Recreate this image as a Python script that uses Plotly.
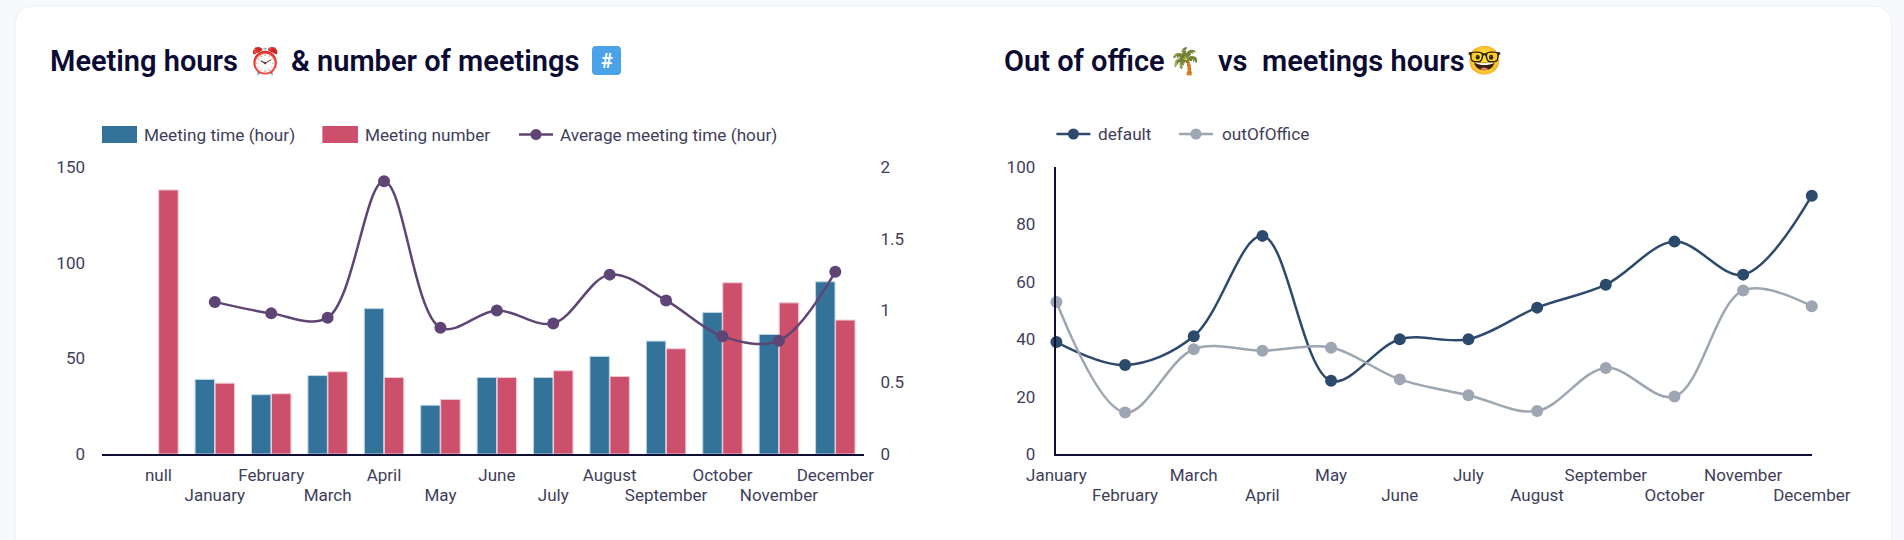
import plotly.graph_objects as go

W, H = 1904, 540

months = ['January', 'February', 'March', 'April', 'May', 'June', 'July',
          'August', 'September', 'October', 'November', 'December']
bar_categories = ['null'] + months

meeting_time = [None, 39, 31, 41, 76, 25.5, 40, 40, 51, 59, 74, 62.5, 90]
meeting_number = [138, 37, 31.5, 43, 40, 28.5, 40, 43.5, 40.5, 55, 89.5, 79, 70]
avg_time = [None, 1.06, 0.98, 0.95, 1.9, 0.88, 1.0, 0.91, 1.25, 1.07, 0.82, 0.79, 1.27]

default_hours = [39, 31, 41, 76, 25.5, 40, 40, 51, 59, 74, 62.5, 90]
out_of_office = [53, 14.5, 36.5, 36, 37, 26, 20.5, 15, 30, 20, 57, 51.5]

BLUE = '#33739A'
RED = '#CC506B'
PURPLE = '#5F4476'
NAVY = '#2C4A6B'
GREY = '#9DA6B2'
AXIS = '#0F0E33'
TEXT = '#3F3E5A'
TITLE = '#0B0A33'
FONT = 'Roboto'


def px_x(x):
    return x / W


def px_y(y):
    return 1 - y / H


def rounded_top(x0, x1, y0, y1, r, bottom_r=0):
    """Path in paper coordinates for a box given in pixels from the top left."""
    p = 'M %f %f L %f %f Q %f %f %f %f L %f %f Q %f %f %f %f L %f %f' % (
        px_x(x0), px_y(y1 - bottom_r), px_x(x0), px_y(y0 + r), px_x(x0), px_y(y0), px_x(x0 + r), px_y(y0),
        px_x(x1 - r), px_y(y0), px_x(x1), px_y(y0), px_x(x1), px_y(y0 + r), px_x(x1), px_y(y1 - bottom_r))
    if bottom_r:
        p += ' Q %f %f %f %f L %f %f Q %f %f %f %f' % (
            px_x(x1), px_y(y1), px_x(x1 - bottom_r), px_y(y1), px_x(x0 + bottom_r), px_y(y1),
            px_x(x0), px_y(y1), px_x(x0), px_y(y1 - bottom_r))
    return p + ' Z'


def legend_box(fig, x0, x1, y, color, label, text_x):
    fig.add_shape(type='rect', xref='paper', yref='paper', x0=px_x(x0), x1=px_x(x1),
                  y0=px_y(y - 8.5), y1=px_y(y + 8.5), fillcolor=color, line_width=0)
    legend_text(fig, text_x, y, label)


def legend_line(fig, x0, x1, y, color, label, text_x):
    fig.add_shape(type='line', xref='paper', yref='paper', x0=px_x(x0), x1=px_x(x1),
                  y0=px_y(y), y1=px_y(y), line=dict(color=color, width=2.5))
    mid = (x0 + x1) / 2
    fig.add_shape(type='circle', xref='paper', yref='paper', x0=px_x(mid - 5.5), x1=px_x(mid + 5.5),
                  y0=px_y(y - 5.5), y1=px_y(y + 5.5), fillcolor=color, line_width=0)
    legend_text(fig, text_x, y, label)


def legend_text(fig, x, y, label):
    fig.add_annotation(xref='paper', yref='paper', x=px_x(x), y=px_y(y), text=label,
                       showarrow=False, xanchor='left', yanchor='middle', borderpad=0, borderwidth=0,
                       font=dict(family=FONT, size=17.2, color=TEXT))


def title(fig, x, text):
    fig.add_annotation(xref='paper', yref='paper', x=px_x(x), y=px_y(61), text=text,
                       showarrow=False, xanchor='left', yanchor='middle', borderpad=0, borderwidth=0,
                       font=dict(family=FONT, size=29, color=TITLE, weight=600))


def emoji(fig, x, text, size=26):
    fig.add_annotation(xref='paper', yref='paper', x=px_x(x), y=px_y(61), text=text,
                       showarrow=False, xanchor='center', yanchor='middle', borderpad=0, borderwidth=0,
                       font=dict(family=FONT, size=size, color=TITLE))


fig = go.Figure()

# month labels are staggered: the lines sit on a second x axis that draws the lower row
fig.add_trace(go.Bar(x=list(range(13)), y=meeting_time, name='Meeting time (hour)', xaxis='x', yaxis='y',
                     marker=dict(color=BLUE, line=dict(color='#BFD6E4', width=1))))
fig.add_trace(go.Bar(x=list(range(13)), y=meeting_number, name='Meeting number', xaxis='x', yaxis='y',
                     marker=dict(color=RED, line=dict(color='#F3C9D2', width=1))))
fig.add_trace(go.Scatter(x=list(range(13)), y=avg_time, name='Average meeting time (hour)', xaxis='x2', yaxis='y2',
                         mode='lines+markers', line=dict(color=PURPLE, width=2.5, shape='spline', smoothing=1),
                         marker=dict(color=PURPLE, size=12), cliponaxis=False))
fig.add_trace(go.Scatter(x=list(range(12)), y=default_hours, name='default', xaxis='x3', yaxis='y3',
                         mode='lines+markers', line=dict(color=NAVY, width=2.5, shape='spline', smoothing=1),
                         marker=dict(color=NAVY, size=12), cliponaxis=False))
fig.add_trace(go.Scatter(x=list(range(12)), y=out_of_office, name='outOfOffice', xaxis='x4', yaxis='y3',
                         mode='lines+markers', line=dict(color=GREY, width=2.5, shape='spline', smoothing=1),
                         marker=dict(color=GREY, size=12), cliponaxis=False))

tick_font = dict(family=FONT, size=17, color=TEXT)
left_dom = [px_x(102), px_x(863.5)]
right_dom = [px_x(1056.4), px_x(1811.8)]
y_dom = [px_y(454), px_y(167)]

x_base = dict(showgrid=False, zeroline=False, tickfont=tick_font, ticks='', tickmode='array', type='linear',
              automargin=False)
y_base = dict(domain=y_dom, showgrid=False, zeroline=False, tickfont=tick_font, ticks='', tickmode='array',
              automargin=False, ticklabelstandoff=16)

fig.update_layout(
    template='none', width=W, height=H, margin=dict(l=0, r=0, t=0, b=0), showlegend=False,
    paper_bgcolor='#F8F9FB', plot_bgcolor='rgba(0,0,0,0)',
    barmode='group', bargap=0.29, bargroupgap=0.03,
    font=dict(family=FONT, color=TEXT),
    xaxis=dict(x_base, domain=left_dom, range=[-1, 12.5], anchor='y', showline=True, linecolor=AXIS, linewidth=2,
               tickvals=list(range(0, 13, 2)), ticktext=bar_categories[0::2], ticklabelstandoff=5),
    xaxis2=dict(x_base, domain=left_dom, range=[-1, 12.5], anchor='y', overlaying='x',
                tickvals=list(range(1, 13, 2)), ticktext=bar_categories[1::2], ticklabelstandoff=29),
    yaxis=dict(y_base, range=[0, 150], anchor='x', tickvals=[0, 50, 100, 150]),
    yaxis2=dict(y_base, range=[0, 2], anchor='x2', overlaying='y', side='right', tickvals=[0, 0.5, 1, 1.5, 2],
                ticktext=['0', '0.5', '1', '1.5', '2']),
    xaxis3=dict(x_base, domain=right_dom, range=[0, 11], anchor='y3', showline=True, linecolor=AXIS, linewidth=2,
                tickvals=list(range(0, 12, 2)), ticktext=months[0::2], ticklabelstandoff=5),
    xaxis4=dict(x_base, domain=right_dom, range=[0, 11], anchor='y3', overlaying='x3',
                tickvals=list(range(1, 12, 2)), ticktext=months[1::2], ticklabelstandoff=29),
    yaxis3=dict(y_base, range=[0, 100], anchor='x3', tickvals=[0, 20, 40, 60, 80, 100],
                showline=True, linecolor=AXIS, linewidth=1.5),
)

# white card behind both charts
fig.add_shape(type='path', xref='paper', yref='paper', layer='below', path=rounded_top(15, 1892, 6, 545, 20),
              fillcolor='white', line=dict(color='#EEF0F4', width=1))

title(fig, 49.8, 'Meeting hours')
emoji(fig, 265, '⏰')
title(fig, 291.4, '& number of meetings')
title(fig, 1003.6, 'Out of office')
emoji(fig, 1184.5, '🌴')
title(fig, 1218, 'vs')
title(fig, 1262, 'meetings hours')
emoji(fig, 1484.5, '🤓', 28)

# keycap emoji renders dull with the installed font, so the blue tile is drawn behind a plain #
fig.add_shape(type='path', xref='paper', yref='paper', path=rounded_top(592, 621, 46, 75, 4, 4),
              fillcolor='#4AA3E8', line_width=0)
fig.add_annotation(xref='paper', yref='paper', x=px_x(606.5), y=px_y(60.5), text='#', showarrow=False,
                   xanchor='center', yanchor='middle', borderpad=0, borderwidth=0,
                   font=dict(family=FONT, size=20, color='white', weight=700))

legend_box(fig, 102, 137, 134.5, BLUE, 'Meeting time (hour)', 144)
legend_box(fig, 322.4, 358, 134.5, RED, 'Meeting number', 365)
legend_line(fig, 519, 553, 134.5, PURPLE, 'Average meeting time (hour)', 560.4)
legend_line(fig, 1056.4, 1090.4, 134, NAVY, 'default', 1098.3)
legend_line(fig, 1179, 1213, 134, GREY, 'outOfOffice', 1221.6)

fig.write_html("out.html", config={'displayModeBar': False}, post_script="document.body.style.margin = '0';")
